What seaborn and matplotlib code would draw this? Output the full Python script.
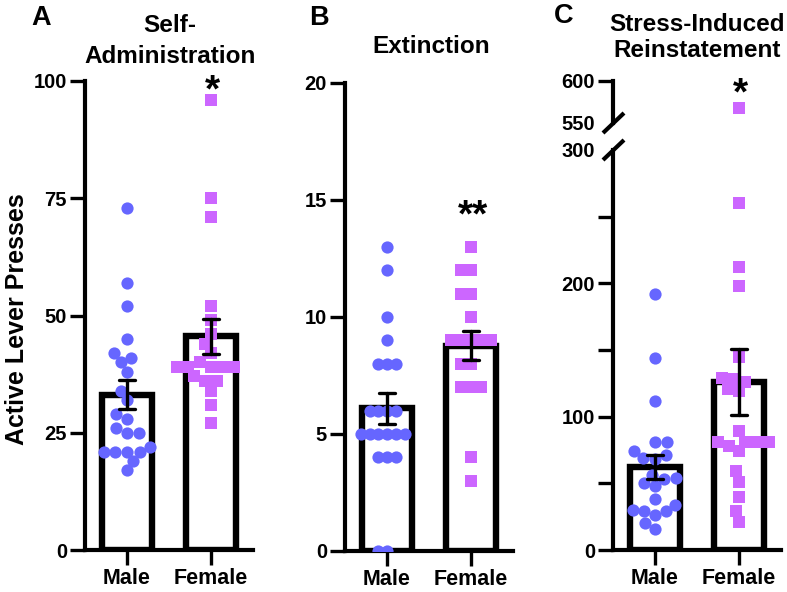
import numpy as np
import pandas as pd
import matplotlib
matplotlib.use("Agg")
import matplotlib.pyplot as plt
import seaborn as sns

# ---------------- data ----------------
ORDER = ["Male", "Female"]
sa_male = [73, 57, 52, 45, 42, 41, 40, 38, 34, 32, 29, 28, 26, 25, 25, 22, 21, 21, 21, 21, 19, 17]
sa_female = [96, 75, 71, 52, 49, 46, 44, 42, 40, 39, 39, 39, 39, 39, 37, 36, 36, 34, 31, 27]
ext_male = [13, 12, 10, 9, 8, 8, 8, 6, 6, 6, 6, 5, 5, 5, 5, 5, 5, 4, 4, 4, 0, 0]
ext_female = [13, 12, 12, 11, 11, 10, 9, 9, 9, 9, 9, 8, 8, 7, 7, 7, 4, 3]
rein_male = [192, 144, 112, 81, 81, 74, 71, 69, 68, 56, 54, 53, 50, 48, 38, 34, 30, 29, 29, 26, 20, 16]
rein_female = [568, 260, 212, 198, 145, 129, 128, 126, 121, 119, 89, 81, 81, 81, 81, 78, 74, 59, 51, 40, 29, 21]

titles = {"A": ["Self-", "Administration"], "B": ["Extinction"], "C": ["Stress-Induced", "Reinstatement"]}
ylabel = "Active Lever Presses"

MALE_C = "#6666FF"
FEMALE_C = "#CC66FF"

# ---------------- style ----------------
sns.set_theme(style="ticks")
plt.rcParams["font.family"] = ["Liberation Sans", "DejaVu Sans"]
plt.rcParams["font.weight"] = "bold"
for k in ["text.color", "axes.labelcolor", "xtick.color", "ytick.color", "axes.edgecolor"]:
    plt.rcParams[k] = "black"

W, H = 787, 592
fig = plt.figure(figsize=(W / 100, H / 100), dpi=100)

SPINE_LW = 3.0
BAR_LW = 4.6
ERR_LW = 2.4
TICK_LEN = 10.5
SHOW_M = 8.8
SHOW_F = 8.0


def px_axes(l, t, r, b):
    return fig.add_axes([l / W, 1 - b / H, (r - l) / W, (b - t) / H])


def fx(x):
    return x / W


def fy(y):
    return 1 - y / H


swarm_colls = []


def draw_panel(ax, male, female, place_m, place_f):
    df = pd.DataFrame({"sex": ["Male"] * len(male) + ["Female"] * len(female),
                       "value": list(male) + list(female)})
    sns.barplot(data=df, x="sex", y="value", order=ORDER, errorbar=None,
                color="white", edgecolor="black", linewidth=BAR_LW, width=0.6,
                ax=ax, zorder=1)
    n0 = len(ax.collections)
    sns.swarmplot(data=df[df.sex == "Male"], x="sex", y="value", order=ORDER,
                  color=MALE_C, marker="o", size=place_m, linewidth=0, ax=ax, zorder=3)
    n1 = len(ax.collections)
    sns.swarmplot(data=df[df.sex == "Female"], x="sex", y="value", order=ORDER,
                  color=FEMALE_C, marker="s", size=place_f, linewidth=0, ax=ax, zorder=3)
    n2 = len(ax.collections)
    for c in ax.collections[n0:n1]:
        swarm_colls.append((c, SHOW_M))
    for c in ax.collections[n1:n2]:
        swarm_colls.append((c, SHOW_F))
    sns.pointplot(data=df, x="sex", y="value", order=ORDER, errorbar="se",
                  capsize=0.2, color="black", linestyle="none", marker="",
                  err_kws={"linewidth": ERR_LW, "zorder": 5}, ax=ax)
    ax.set_xlim(-0.5, 1.5)
    ax.set_xlabel("")
    ax.set_ylabel("")
    sns.despine(ax=ax)
    for s in ["left", "bottom"]:
        ax.spines[s].set_linewidth(SPINE_LW)
        ax.spines[s].set_color("black")
    ax.tick_params(axis="both", length=TICK_LEN, width=SPINE_LW * 0.8, color="black",
                   labelcolor="black", pad=2.5)
    ax.tick_params(axis="x", labelsize=15.5)
    ax.tick_params(axis="y", labelsize=14.5)


# Panel A
axA = px_axes(85, 81, 253, 550)
draw_panel(axA, sa_male, sa_female, 8.0, 8.0)
axA.set_ylim(0, 100)
axA.set_yticks([0, 25, 50, 75, 100])

# Panel B
axB = px_axes(345, 83, 513, 551)
draw_panel(axB, ext_male, ext_female, 6.0, 7.0)
axB.set_ylim(0, 20)
axB.set_yticks([0, 5, 10, 15, 20])

# Panel C (broken axis)
axC = px_axes(613, 150, 781, 550)
draw_panel(axC, rein_male, rein_female, 8.0, 8.0)
axC.set_ylim(0, 300)
axC.set_yticks([0, 50, 100, 150, 200, 250, 300])
axC.set_yticklabels(["0", "", "100", "", "200", "", "300"])
axC.yaxis.get_major_ticks()[-1].tick1line.set_visible(False)

axCu = px_axes(613, 81, 781, 123)
draw_panel(axCu, rein_male, rein_female, 8.0, 8.0)
axCu.set_ylim(550, 600)
axCu.set_yticks([550, 600])
axCu.yaxis.get_major_ticks()[0].tick1line.set_visible(False)
axCu.spines["bottom"].set_visible(False)
axCu.tick_params(axis="x", bottom=False, labelbottom=False)

# break slashes
dx1, dx2, dyp = 10, 11, 10
axC.plot([-dx1 / 168, dx2 / 168], [1 - dyp / 400, 1 + dyp / 400], transform=axC.transAxes,
         color="black", lw=SPINE_LW, clip_on=False, solid_capstyle="butt")
axCu.plot([-dx1 / 168, dx2 / 168], [-dyp / 42, dyp / 42], transform=axCu.transAxes,
          color="black", lw=SPINE_LW, clip_on=False, solid_capstyle="butt")

# ---------------- texts ----------------
TFS = 17.5
fig.text(fx(170), fy(32), titles["A"][0], ha="center", va="baseline", fontsize=TFS)
fig.text(fx(170), fy(63), titles["A"][1], ha="center", va="baseline", fontsize=TFS)
fig.text(fx(431), fy(53), titles["B"][0], ha="center", va="baseline", fontsize=TFS)
fig.text(fx(697), fy(31), titles["C"][0], ha="center", va="baseline", fontsize=TFS)
fig.text(fx(697), fy(57), titles["C"][1], ha="center", va="baseline", fontsize=TFS)

fig.text(fx(31), fy(25), "A", ha="left", va="baseline", fontsize=19.5)
fig.text(fx(309), fy(25), "B", ha="left", va="baseline", fontsize=19.5)
fig.text(fx(554), fy(23), "C", ha="left", va="baseline", fontsize=19.5)

fig.text(fx(17), fy(319), ylabel, rotation=90, ha="center", va="center", fontsize=18)

AFS = 28
fig.text(fx(212), fy(101), "*", ha="center", va="baseline", fontsize=AFS)
fig.text(fx(473), fy(226), "**", ha="center", va="baseline", fontsize=AFS)
fig.text(fx(740), fy(104), "*", ha="center", va="baseline", fontsize=AFS)

# compute swarm positions with the placement size, then show larger markers
fig.canvas.draw()
for c, sz in swarm_colls:
    c.__dict__.pop("draw", None)
    c.set_sizes([sz ** 2])

fig.savefig("out.png", dpi=100)
